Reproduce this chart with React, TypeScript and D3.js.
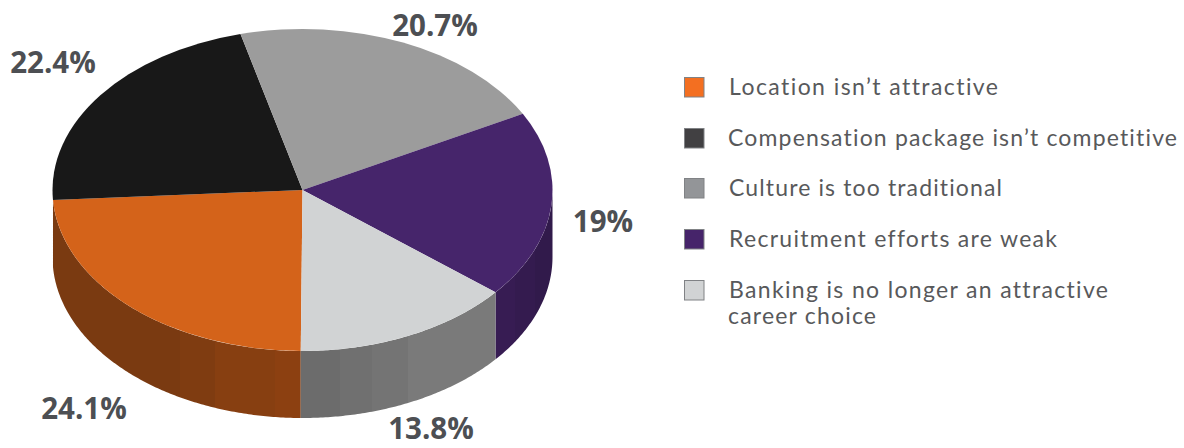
import React from 'react';
import * as d3 from 'd3';

const width = 1184;
const height = 448;

// data, in drawing order, clockwise from the bottom of the pie
const categories = [
  'Location isn’t attractive',
  'Compensation package isn’t competitive',
  'Culture is too traditional',
  'Recruitment efforts are weak',
  'Banking is no longer an attractive',
];
const valueLabels = ['24.1%', '22.4%', '20.7%', '19%', '13.8%'];
// the drawn slices don't quite follow the printed numbers, these are measured off the rim
const sliceShares = [23.9, 22, 21.15, 18.8, 14.15];

const legendExtraLine = 'career choice';

const topColors = ['#d4631a', '#181818', '#9c9c9c', '#46256b', '#d1d3d4'];
const swatchColors = ['#f36f21', '#414042', '#939598', '#46246a', '#d1d3d4'];

// wall shading: [right edge of the band in px, colour]
const wallBands: Record<number, [number, string][]> = {
  0: [[180, '#7a3a11'], [215, '#7f3c11'], [275, '#873f11'], [302, '#8c4011']],
  4: [[340, '#6c6c6c'], [372, '#707070'], [408, '#747474'], [496, '#7a7a7a']],
  3: [[515, '#371c53'], [535, '#341b4f'], [554, '#311a4b']],
};

const cx = 302.5;
const cy = 190;
const rx = 250;
const ry = 161;
const depth = 67;

const startAngle = Math.PI + 0.007;

const labelX = [84, 53, 435, 603, 431];
const labelY = [419, 73, 36, 232, 439];

const legendY = [87, 138, 188, 239, 290];
const legendX = [729, 728, 729, 729, 729];
const legendWidths = [269, 449, 273, 328, 379];

const pie = d3.pie<number>()
  .sort(null)
  .startAngle(startAngle)
  .endAngle(startAngle + 2 * Math.PI);

const arcs = pie(sliceShares);

const topArc = d3.arc<d3.PieArcDatum<number>>()
  .innerRadius(0)
  .outerRadius(rx);

const rimX = (a: number) => cx + rx * Math.sin(a);
const rimY = (a: number) => cy - ry * Math.cos(a);

const wallArea = d3.area<number>()
  .x(a => rimX(a))
  .y0(a => rimY(a))
  .y1(a => rimY(a) + depth);

// only the front half of the rim has a visible wall (PI/2 .. 3PI/2)
const wallPath = (start: number, end: number) => {
  const from = Math.max(start, Math.PI / 2);
  const to = Math.min(end, 3 * Math.PI / 2);
  if (to > from) return wallArea(d3.range(from, to, 0.01).concat(to));
  return null;
};

const gradientStops = (i: number, x0: number, x1: number) => {
  const t = d3.scaleLinear().domain([x0, x1]).range([0, 100]);
  const stops: React.ReactElement[] = [];
  let prev = x0;
  wallBands[i].forEach(([edge, color], j) => {
    stops.push(<stop key={`${j}a`} offset={`${t(prev)}%`} stopColor={color} />);
    stops.push(<stop key={`${j}b`} offset={`${t(edge)}%`} stopColor={color} />);
    prev = edge;
  });
  return stops;
};

const legendStyle = { fontVariantLigatures: 'none' };

const App = () => {
  // slices past the top of the pie come round again, so try them wrapped too
  const walls = arcs.map((d, i) => ({
    i,
    path: wallPath(d.startAngle, d.endAngle) || wallPath(d.startAngle - 2 * Math.PI, d.endAngle - 2 * Math.PI),
  })).filter(w => w.path && wallBands[w.i]);

  return (
    <svg width={width} height={height} style={{ position: 'absolute', left: 0, top: 0, display: 'block' }}>
      <defs>
        {walls.map(w => (
          <linearGradient key={w.i} id={`wall${w.i}`} gradientUnits="userSpaceOnUse" x1={cx - rx} x2={cx + rx} y1={0} y2={0}>
            {gradientStops(w.i, cx - rx, cx + rx)}
          </linearGradient>
        ))}
      </defs>

      {walls.map(w => (
        <path key={w.i} d={w.path as string} fill={`url(#wall${w.i})`} />
      ))}

      <g transform={`translate(${cx},${cy}) scale(1,${ry / rx})`}>
        {arcs.map((d, i) => (
          <path key={i} d={topArc(d) as string} fill={topColors[i]} />
        ))}
      </g>

      {valueLabels.map((t, i) => (
        <text
          key={t}
          x={labelX[i]}
          y={labelY[i]}
          textAnchor="middle"
          fontFamily="'Open Sans'"
          fontWeight="700"
          fontSize="29.5"
          fill="#4d4f53"
        >
          {t}
        </text>
      ))}

      {categories.map((name, i) => (
        <g key={name}>
          <rect
            x={684.5}
            y={legendY[i] - 9.5}
            width={19.5}
            height={19.5}
            fill={swatchColors[i]}
            stroke="#808285"
            strokeWidth="1"
          />
          <text
            x={legendX[i]}
            y={legendY[i] + 8}
            fontFamily="Lato"
            fontSize="23"
            textLength={legendWidths[i]}
            lengthAdjust="spacing"
            fill="#58595b"
            style={legendStyle}
          >
            {name}
          </text>
        </g>
      ))}
      <text x={728} y={324} fontFamily="Lato" fontSize="23" textLength={148} lengthAdjust="spacing" fill="#58595b" style={legendStyle}>
        {legendExtraLine}
      </text>
    </svg>
  );
};

export default App;
